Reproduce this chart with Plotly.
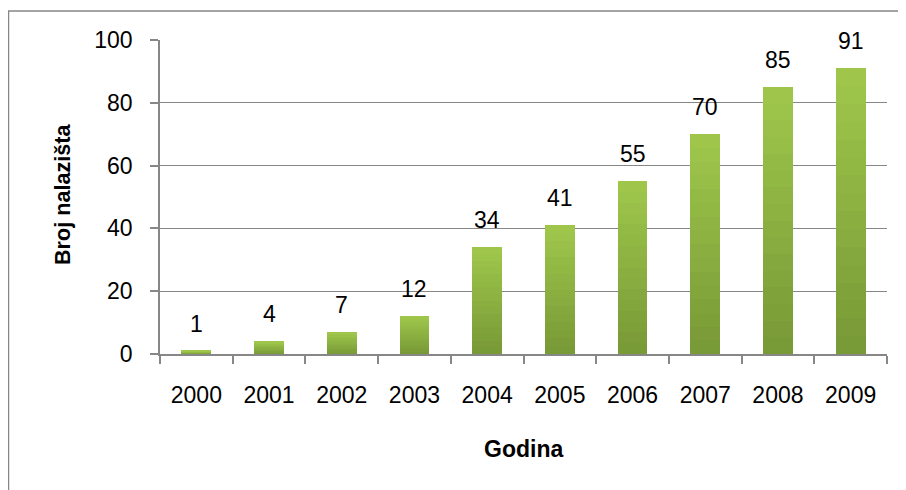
import plotly.graph_objects as go

years = ["2000", "2001", "2002", "2003", "2004", "2005", "2006", "2007", "2008", "2009"]
counts = [1, 4, 7, 12, 34, 41, 55, 70, 85, 91]
y_ticks = [0, 20, 40, 60, 80, 100]
x_title = "Godina"
y_title = "Broj nalazišta"

FONT = "Liberation Sans"
GRID = "#878787"

# screen geometry of the plot area (page body adds an 8px offset)
OFF = 8
PX0, PX1, PY0, PY1 = 160, 887, 40, 354


def px(x):
    return (x - PX0) / (PX1 - PX0)


def py(y):
    return (PY1 - y) / (PY1 - PY0)


# vertical gradient per bar: dark at the bottom, light at the top
top_rgb = (0xA0, 0xC8, 0x4C)
bot_rgb = (0x77, 0x98, 0x36)
N = 16

fig = go.Figure()
for k in range(N):
    t = (k + 0.5) / N
    c = tuple(round(bot_rgb[i] + (top_rgb[i] - bot_rgb[i]) * t) for i in range(3))
    fig.add_trace(go.Bar(
        x=years, y=[v / N for v in counts],
        marker=dict(color="rgb(%d,%d,%d)" % c, line=dict(width=0)),
        showlegend=False, hoverinfo="skip",
    ))

# category axis: annotation positions given by category index
for i, v in enumerate(counts):
    fig.add_annotation(x=i, y=v, text=str(v), showarrow=False, yshift=27,
                       xanchor="center", yanchor="middle",
                       font=dict(family=FONT, size=23, color="#000"))

fig.add_annotation(xref="paper", yref="paper", x=px(523), y=py(449),
                   xanchor="center", yanchor="middle",
                   text="<b>%s</b>" % x_title, showarrow=False,
                   font=dict(family=FONT, size=23, color="#000"))
fig.add_annotation(xref="paper", yref="paper", x=px(62), y=py(195),
                   xanchor="center", yanchor="middle",
                   text="<b>%s</b>" % y_title, showarrow=False, textangle=-90,
                   font=dict(family=FONT, size=21.6, color="#000"))

fig.add_shape(type="rect", xref="paper", yref="paper",
              x0=px(8.5), x1=px(925), y0=py(11), y1=py(510),
              line=dict(color=GRID, width=1.5), layer="below")

W, H = 906, 490
fig.update_layout(
    barmode="stack", bargap=0.59,
    width=W, height=H,
    margin=dict(l=PX0 - OFF, r=W + OFF - PX1, t=PY0 - OFF, b=H + OFF - PY1),
    paper_bgcolor="white", plot_bgcolor="white",
    font=dict(family=FONT, size=23, color="#000"),
    xaxis=dict(type="category", range=[-0.5, 9.5], showline=True, linecolor=GRID, linewidth=1.5,
               ticks="outside", tickson="boundaries", ticklen=8, tickcolor=GRID, tickwidth=1.5,
               showgrid=False, ticklabelstandoff=20, tickangle=0,
               tickfont=dict(family=FONT, size=23, color="#000")),
    yaxis=dict(range=[0, 100], tickvals=y_ticks, showline=True, linecolor=GRID, linewidth=1.5,
               ticks="outside", ticklen=8, tickcolor=GRID, tickwidth=1.5,
               showgrid=True, gridcolor=GRID, gridwidth=1.2, zeroline=False,
               ticklabelstandoff=13,
               tickfont=dict(family=FONT, size=23, color="#000")),
)

fig.write_html("out.html")
